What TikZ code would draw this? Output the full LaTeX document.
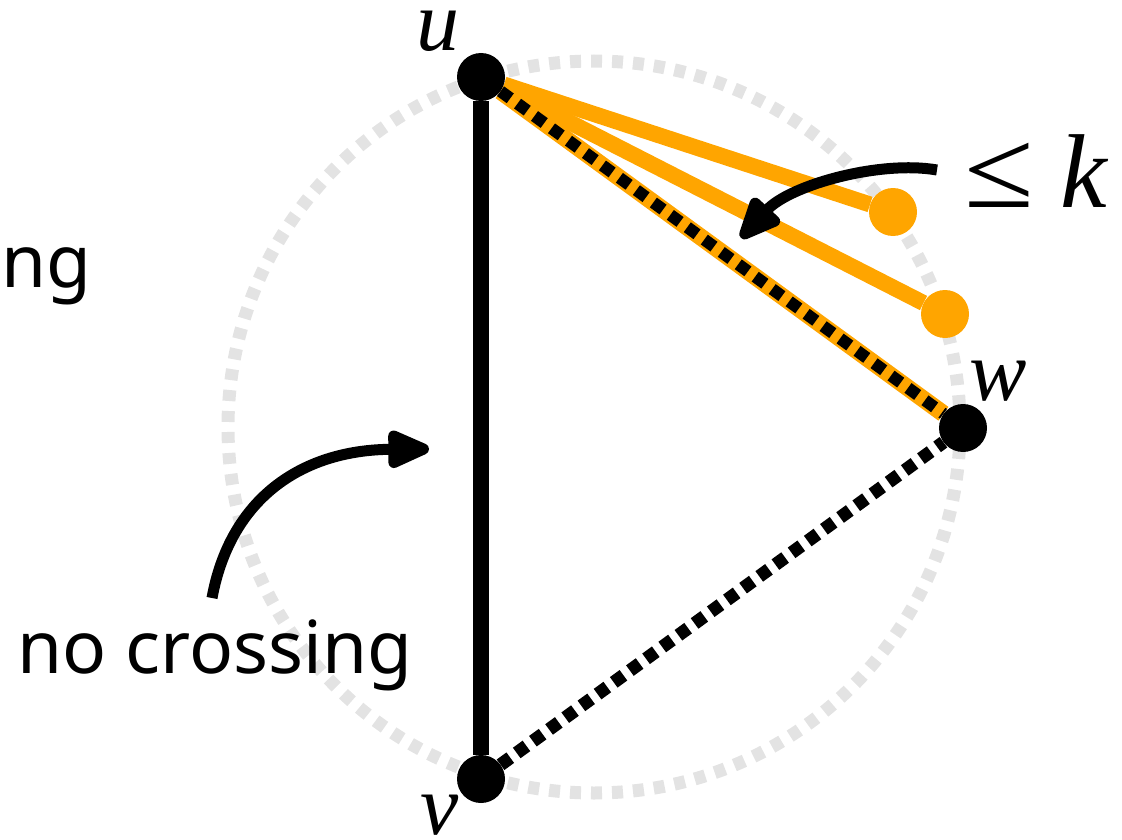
\documentclass[tikz,border=0pt]{standalone}
\usepackage{fontspec}
\newfontfamily\notosans{Noto Sans}
\newfontfamily\serifit{Liberation Serif}
\usetikzlibrary{arrows.meta,backgrounds}
\definecolor{orangeC}{HTML}{FFA500}
\definecolor{ringgray}{HTML}{E3E3E3}
\begin{document}
\begin{tikzpicture}[x=1pt,y=-1pt,
  vdot/.style={circle,fill=black,inner sep=0pt,minimum size=48pt},
  odot/.style={circle,fill=orangeC,inner sep=0pt,minimum size=48pt},
  ring/.style={draw=ringgray,line width=13pt,dash pattern=on 11pt off 10pt},
  solidedge/.style={draw=black,line width=16pt},
  orangeedge/.style={draw=orangeC,line width=16pt},
  dashedge/.style={draw=black,line width=13pt,dash pattern=on 12pt off 8pt},
  mixedge/.style={draw=black,line width=12pt,dash pattern=on 12pt off 9pt},
  arr/.style={draw=black,line width=11pt,-{Triangle[length=50pt,width=40pt,round]}},
  mathlbl/.style={inner sep=0pt,text height=0.45em,text depth=0pt,font=\serifit\itshape\fontsize{86}{86}\selectfont},
  textlbl/.style={inner sep=0pt,font=\notosans\fontsize{73}{73}\selectfont}
]
\useasboundingbox (0,0) rectangle (1122,840);
\clip (0,0) rectangle (1122,840);
% vertices
\node[vdot] (u) at (481,77) {};
\node[vdot] (v) at (481,779) {};
\node[vdot] (w) at (963,428) {};
\node[odot] (o1) at (893,212) {};
\node[odot] (o2) at (945,314) {};
\coordinate (c) at (594,427);
\begin{pgfonlayer}{background}
  \draw[ring] (c) circle[radius=366];
  \draw[solidedge] (u) -- (v);
  \draw[orangeedge] (u) -- (o1);
  \draw[orangeedge] (u) -- (o2);
  \draw[orangeedge,line width=17pt] (u) -- (w);
  \draw[mixedge] (u) -- (w);
  \draw[dashedge] (v) -- (w);
\end{pgfonlayer}
% labels
\node[mathlbl,anchor=base] (lu) at (438,51) {u};
\node[mathlbl,anchor=base] (lv) at (440,834) {v};
\node[mathlbl,anchor=base] (lw) at (998,400) {w};
\node[inner sep=0pt,anchor=base west,font=\serifit\fontsize{92}{92}\selectfont] (leq) at (964,207) {\scalebox{1.38}[1.22]{≤}};
\node[inner sep=0pt,anchor=base west,font=\serifit\itshape\fontsize{105}{105}\selectfont] (lk) at (1060,207) {k};
\node[textlbl,anchor=base west] (nc) at (17,673) {no crossing};
\node[textlbl,anchor=base east] (ng) at (92,287) {ng};
% arrows
\coordinate (a1s) at (937,170);
\coordinate (a1e) at (741,238);
\coordinate (a2s) at (212,598);
\coordinate (a2e) at (429,449);
\draw[arr] (a1s) .. controls (880,160) and (790,185) .. (a1e);
\draw[arr] (a2s) .. controls (230,500) and (300,450) .. (a2e);
\end{tikzpicture}
\end{document}
